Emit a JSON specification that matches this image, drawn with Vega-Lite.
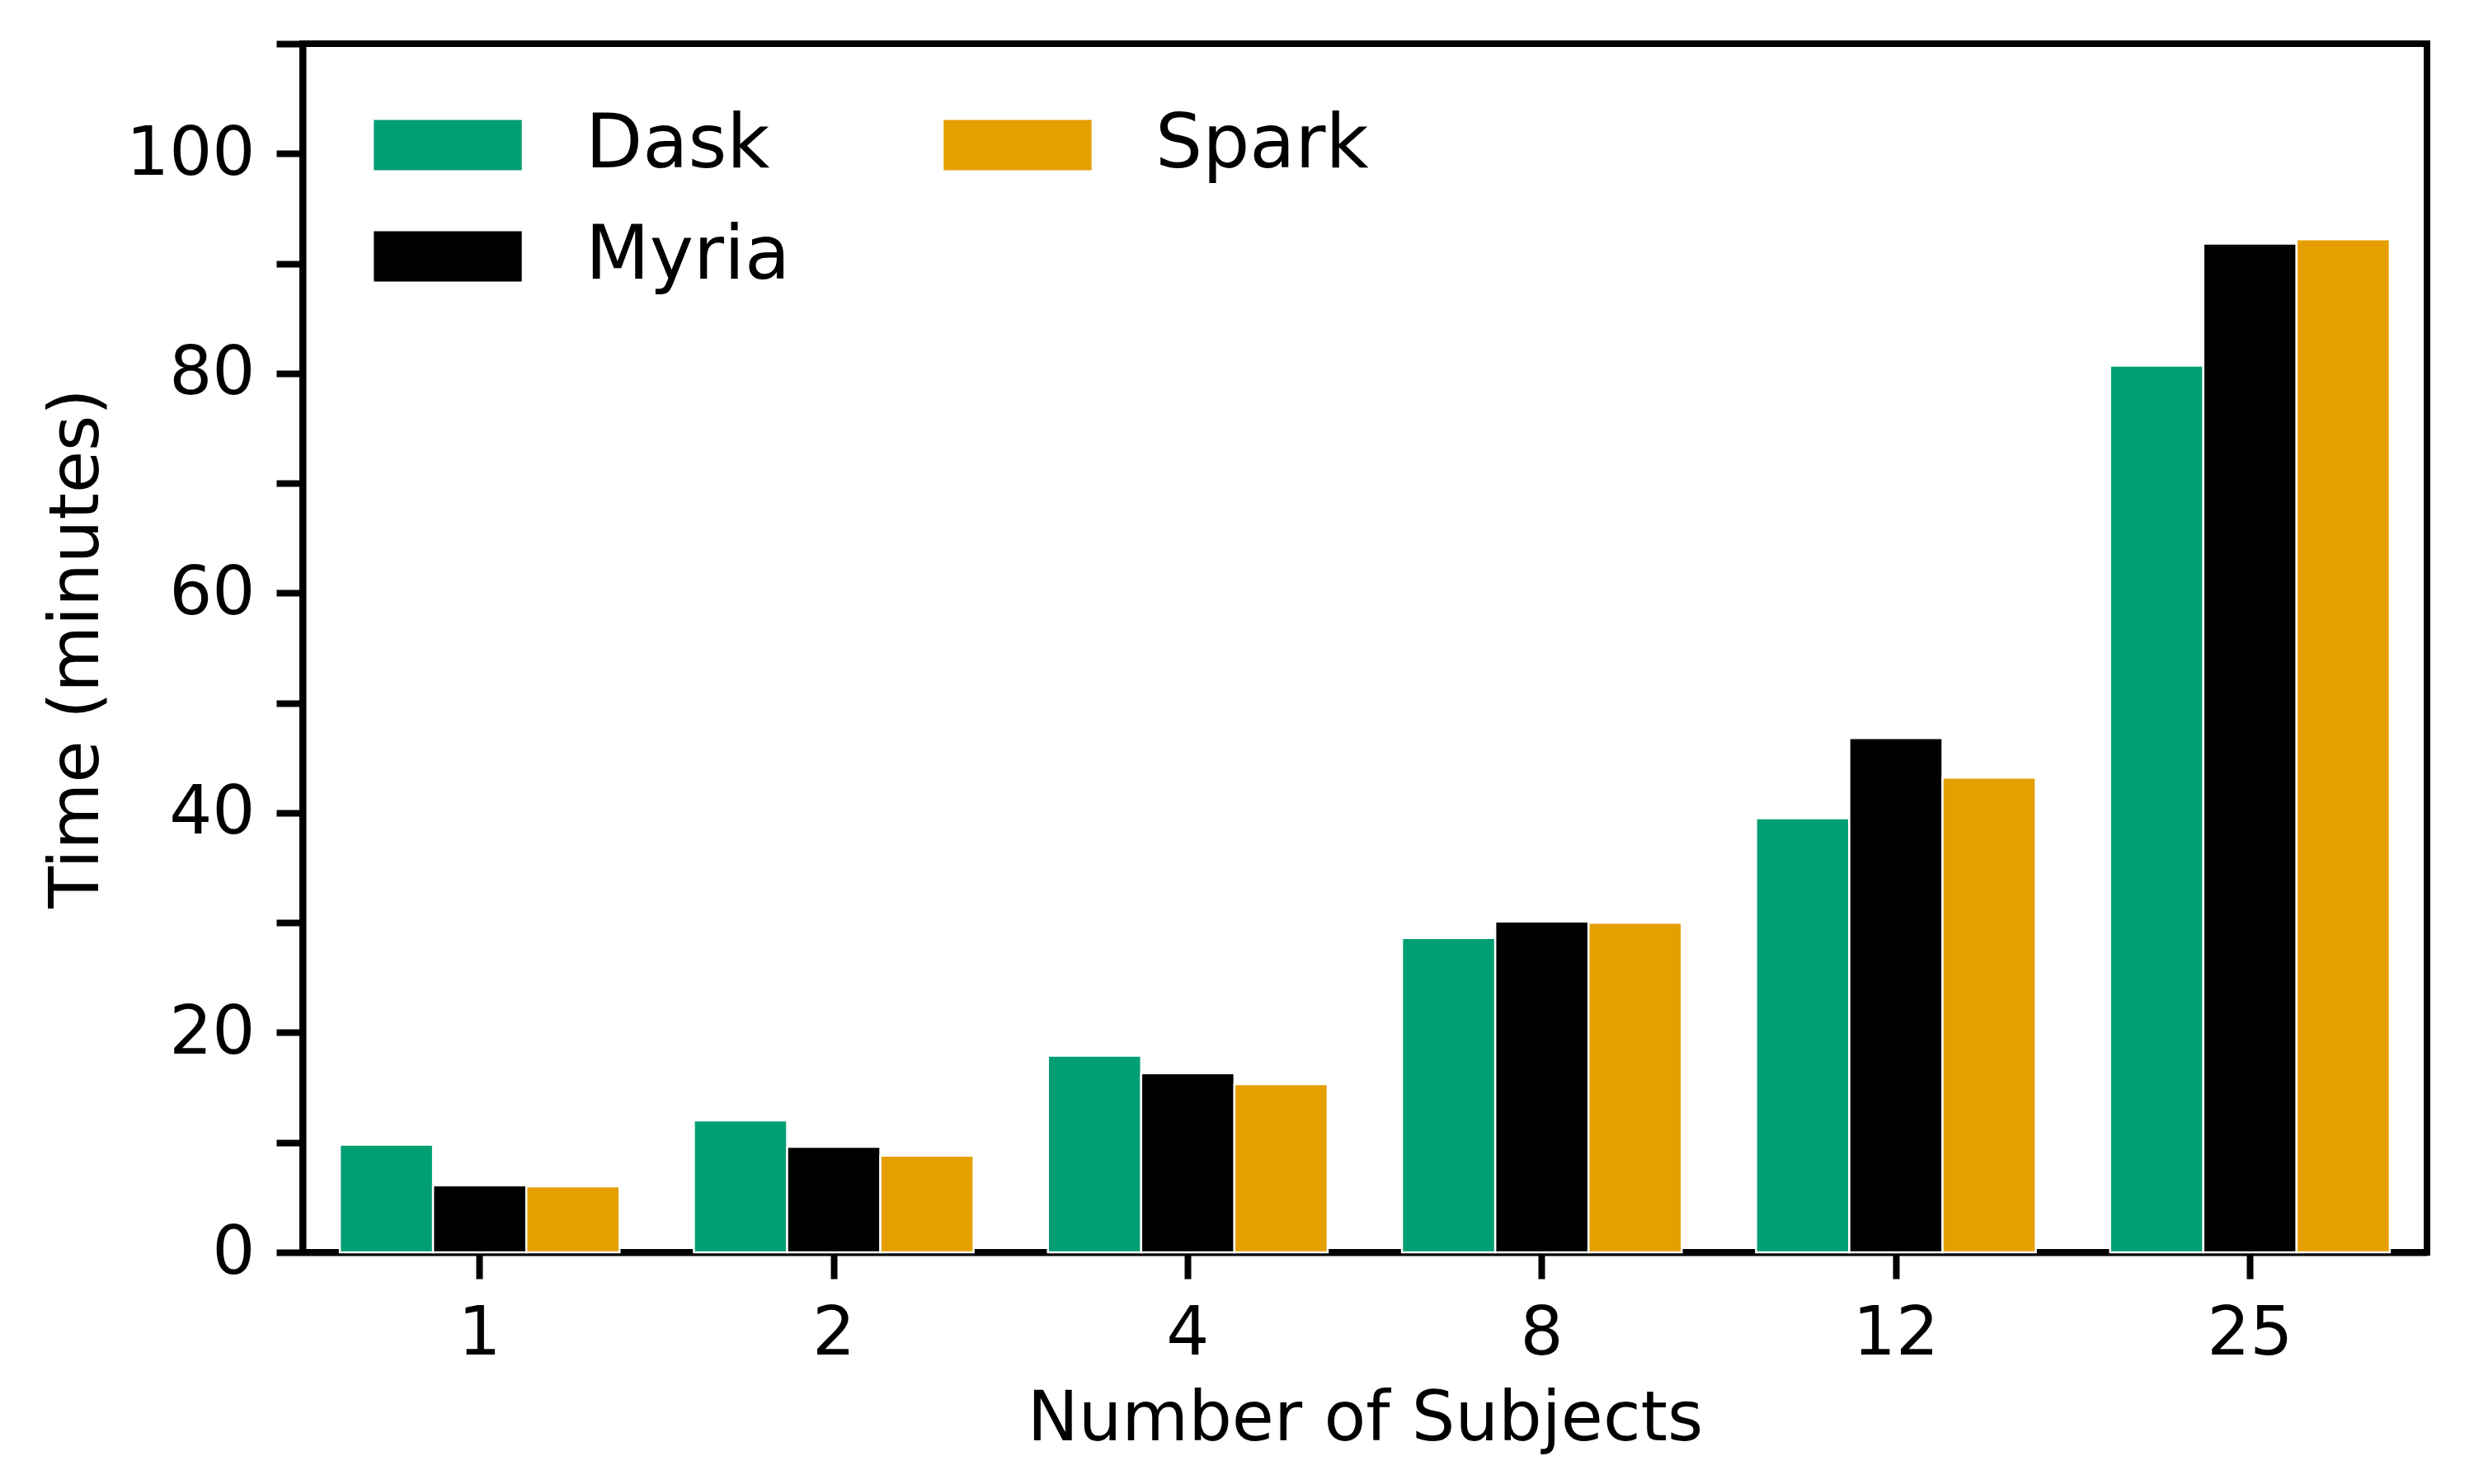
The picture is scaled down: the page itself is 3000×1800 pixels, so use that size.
{
  "$schema": "https://vega.github.io/schema/vega-lite/v6.json",
  "width": 2576,
  "height": 1466,
  "autosize": {"type": "none"},
  "padding": {"left": 367, "top": 53, "right": 57, "bottom": 281},
  "background": "white",
  "config": {
    "font": "DejaVu Sans",
    "view": {"stroke": "black", "strokeWidth": 8},
    "axis": {
      "domainColor": "black",
      "domainWidth": 8,
      "tickColor": "black",
      "tickWidth": 8,
      "tickSize": 32,
      "labelFont": "DejaVu Sans",
      "labelFontSize": 82,
      "labelColor": "black",
      "labelPadding": 26,
      "titleFont": "DejaVu Sans",
      "titleFontSize": 83,
      "titleColor": "black",
      "titleFontWeight": "normal",
      "grid": false,
      "zindex": 1
    },
    "legend": {
      "labelFont": "DejaVu Sans",
      "labelFontSize": 90,
      "labelColor": "black",
      "labelLimit": 0,
      "padding": 0
    }
  },
  "data": {
    "values": [
      {"subjects": 1, "system": "Dask", "time": 9.8},
      {"subjects": 1, "system": "Myria", "time": 6.1},
      {"subjects": 1, "system": "Spark", "time": 6.0},
      {"subjects": 2, "system": "Dask", "time": 12.0},
      {"subjects": 2, "system": "Myria", "time": 9.6},
      {"subjects": 2, "system": "Spark", "time": 8.8},
      {"subjects": 4, "system": "Dask", "time": 17.9},
      {"subjects": 4, "system": "Myria", "time": 16.3},
      {"subjects": 4, "system": "Spark", "time": 15.3},
      {"subjects": 8, "system": "Dask", "time": 28.6},
      {"subjects": 8, "system": "Myria", "time": 30.1},
      {"subjects": 8, "system": "Spark", "time": 30.0},
      {"subjects": 12, "system": "Dask", "time": 39.5},
      {"subjects": 12, "system": "Myria", "time": 46.8},
      {"subjects": 12, "system": "Spark", "time": 43.2},
      {"subjects": 25, "system": "Dask", "time": 80.7},
      {"subjects": 25, "system": "Myria", "time": 91.8},
      {"subjects": 25, "system": "Spark", "time": 92.2}
    ]
  },
  "mark": {"type": "bar", "stroke": "white", "strokeWidth": 2.5, "opacity": 1},
  "encoding": {
    "x": {
      "field": "subjects",
      "type": "ordinal",
      "scale": {"paddingInner": 0.21, "paddingOuter": 0.105},
      "axis": {"title": "Number of Subjects", "labelAngle": 0, "titlePadding": 22}
    },
    "xOffset": {
      "field": "system",
      "type": "nominal",
      "sort": ["Dask", "Myria", "Spark"],
      "scale": {"paddingInner": 0, "paddingOuter": 0}
    },
    "y": {
      "field": "time",
      "type": "quantitative",
      "scale": {"domain": [0, 110], "nice": false, "zero": true},
      "axis": {
        "title": "Time (minutes)",
        "values": [0, 10, 20, 30, 40, 50, 60, 70, 80, 90, 100, 110],
        "labelExpr": "datum.value % 20 === 0 ? datum.label : ''",
        "titlePadding": 32
      }
    },
    "color": {
      "field": "system",
      "type": "nominal",
      "scale": {"domain": ["Dask", "Spark", "Myria"], "range": ["#009E73", "#E69F00", "#000000"]},
      "legend": {
        "title": null,
        "orient": "none",
        "legendX": 115,
        "legendY": 62,
        "columns": 2,
        "direction": "horizontal",
        "columnPadding": 185,
        "rowPadding": 29,
        "symbolType": "M-1.47,-0.5H1.47V0.5H-1.47Z",
        "symbolSize": 14884,
        "symbolStrokeWidth": 0,
        "symbolOpacity": 1,
        "labelOffset": 106,
        "labelLimit": 0
      }
    }
  }
}
